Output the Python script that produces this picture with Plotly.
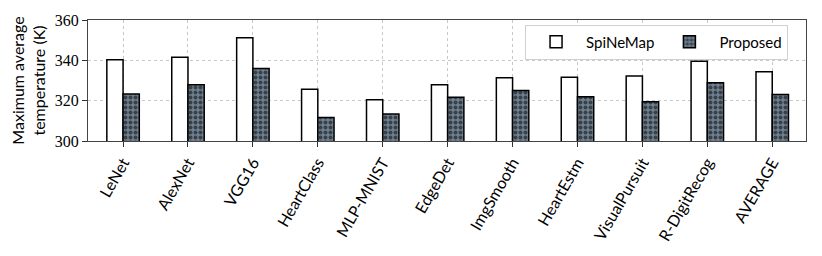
import plotly.graph_objects as go

categories = ["LeNet", "AlexNet", "VGG16", "HeartClass", "MLP-MNIST", "EdgeDet",
              "ImgSmooth", "HeartEstm", "VisualPursuit", "R-DigitRecog", "AVERAGE"]
spinemap = [340.3, 341.5, 351.2, 325.6, 320.5, 327.9, 331.4, 331.6, 332.2, 339.5, 334.4]
proposed = [323.3, 327.9, 336.0, 311.7, 313.4, 321.7, 325.1, 322.0, 319.5, 328.9, 323.0]
y_ticks = [300, 320, 340, 360]

fig = go.Figure()
fig.add_trace(go.Bar(
    x=categories, y=spinemap, name="SpiNeMap",
    marker=dict(color="white", line=dict(color="black", width=1.5)),
))
fig.add_trace(go.Bar(
    x=categories, y=proposed, name="Proposed",
    marker=dict(color="#708090", line=dict(color="black", width=1.5),
                pattern=dict(shape=".", fgcolor="black", bgcolor="#708090",
                             size=5, solidity=0.5, fillmode="overlay")),
))

fig.update_layout(
    width=806, height=240,
    margin=dict(l=80, r=8, t=12, b=107, autoexpand=False),
    barmode="group", bargap=0.5, bargroupgap=0,
    plot_bgcolor="white", paper_bgcolor="white",
    font=dict(family="Lato, DejaVu Sans, sans-serif", size=14, color="black"),
    showlegend=True,
    legend=dict(orientation="h", x=0.975, y=0.962, xanchor="right", yanchor="top",
                bgcolor="white", bordercolor="#d0d0d0", borderwidth=1,
                font=dict(size=15), itemwidth=50, traceorder="normal"),
)
fig.update_xaxes(
    range=[-0.54, 10.52], automargin=False,
    tickangle=-60, tickfont=dict(size=16, family="Lato, DejaVu Sans, sans-serif"),
    ticks="outside", ticklen=5, tickcolor="#333",
    showline=True, linecolor="#444", linewidth=1.2, mirror=True,
    showgrid=True, gridcolor="#c8c8c8", griddash="dot", gridwidth=1,
)
fig.update_yaxes(
    range=[300, 360], tickvals=y_ticks, automargin=False,
    tickfont=dict(size=16, family="Liberation Serif, DejaVu Serif, serif"),
    ticks="outside", ticklen=5, tickcolor="#333",
    showline=True, linecolor="#444", linewidth=1.2, mirror=True,
    showgrid=True, gridcolor="#c8c8c8", griddash="dot", gridwidth=1,
    zeroline=False,
    title=dict(text="Maximum average<br>temperature (K)", font=dict(size=16), standoff=6),
)

fig.write_html("out.html")
